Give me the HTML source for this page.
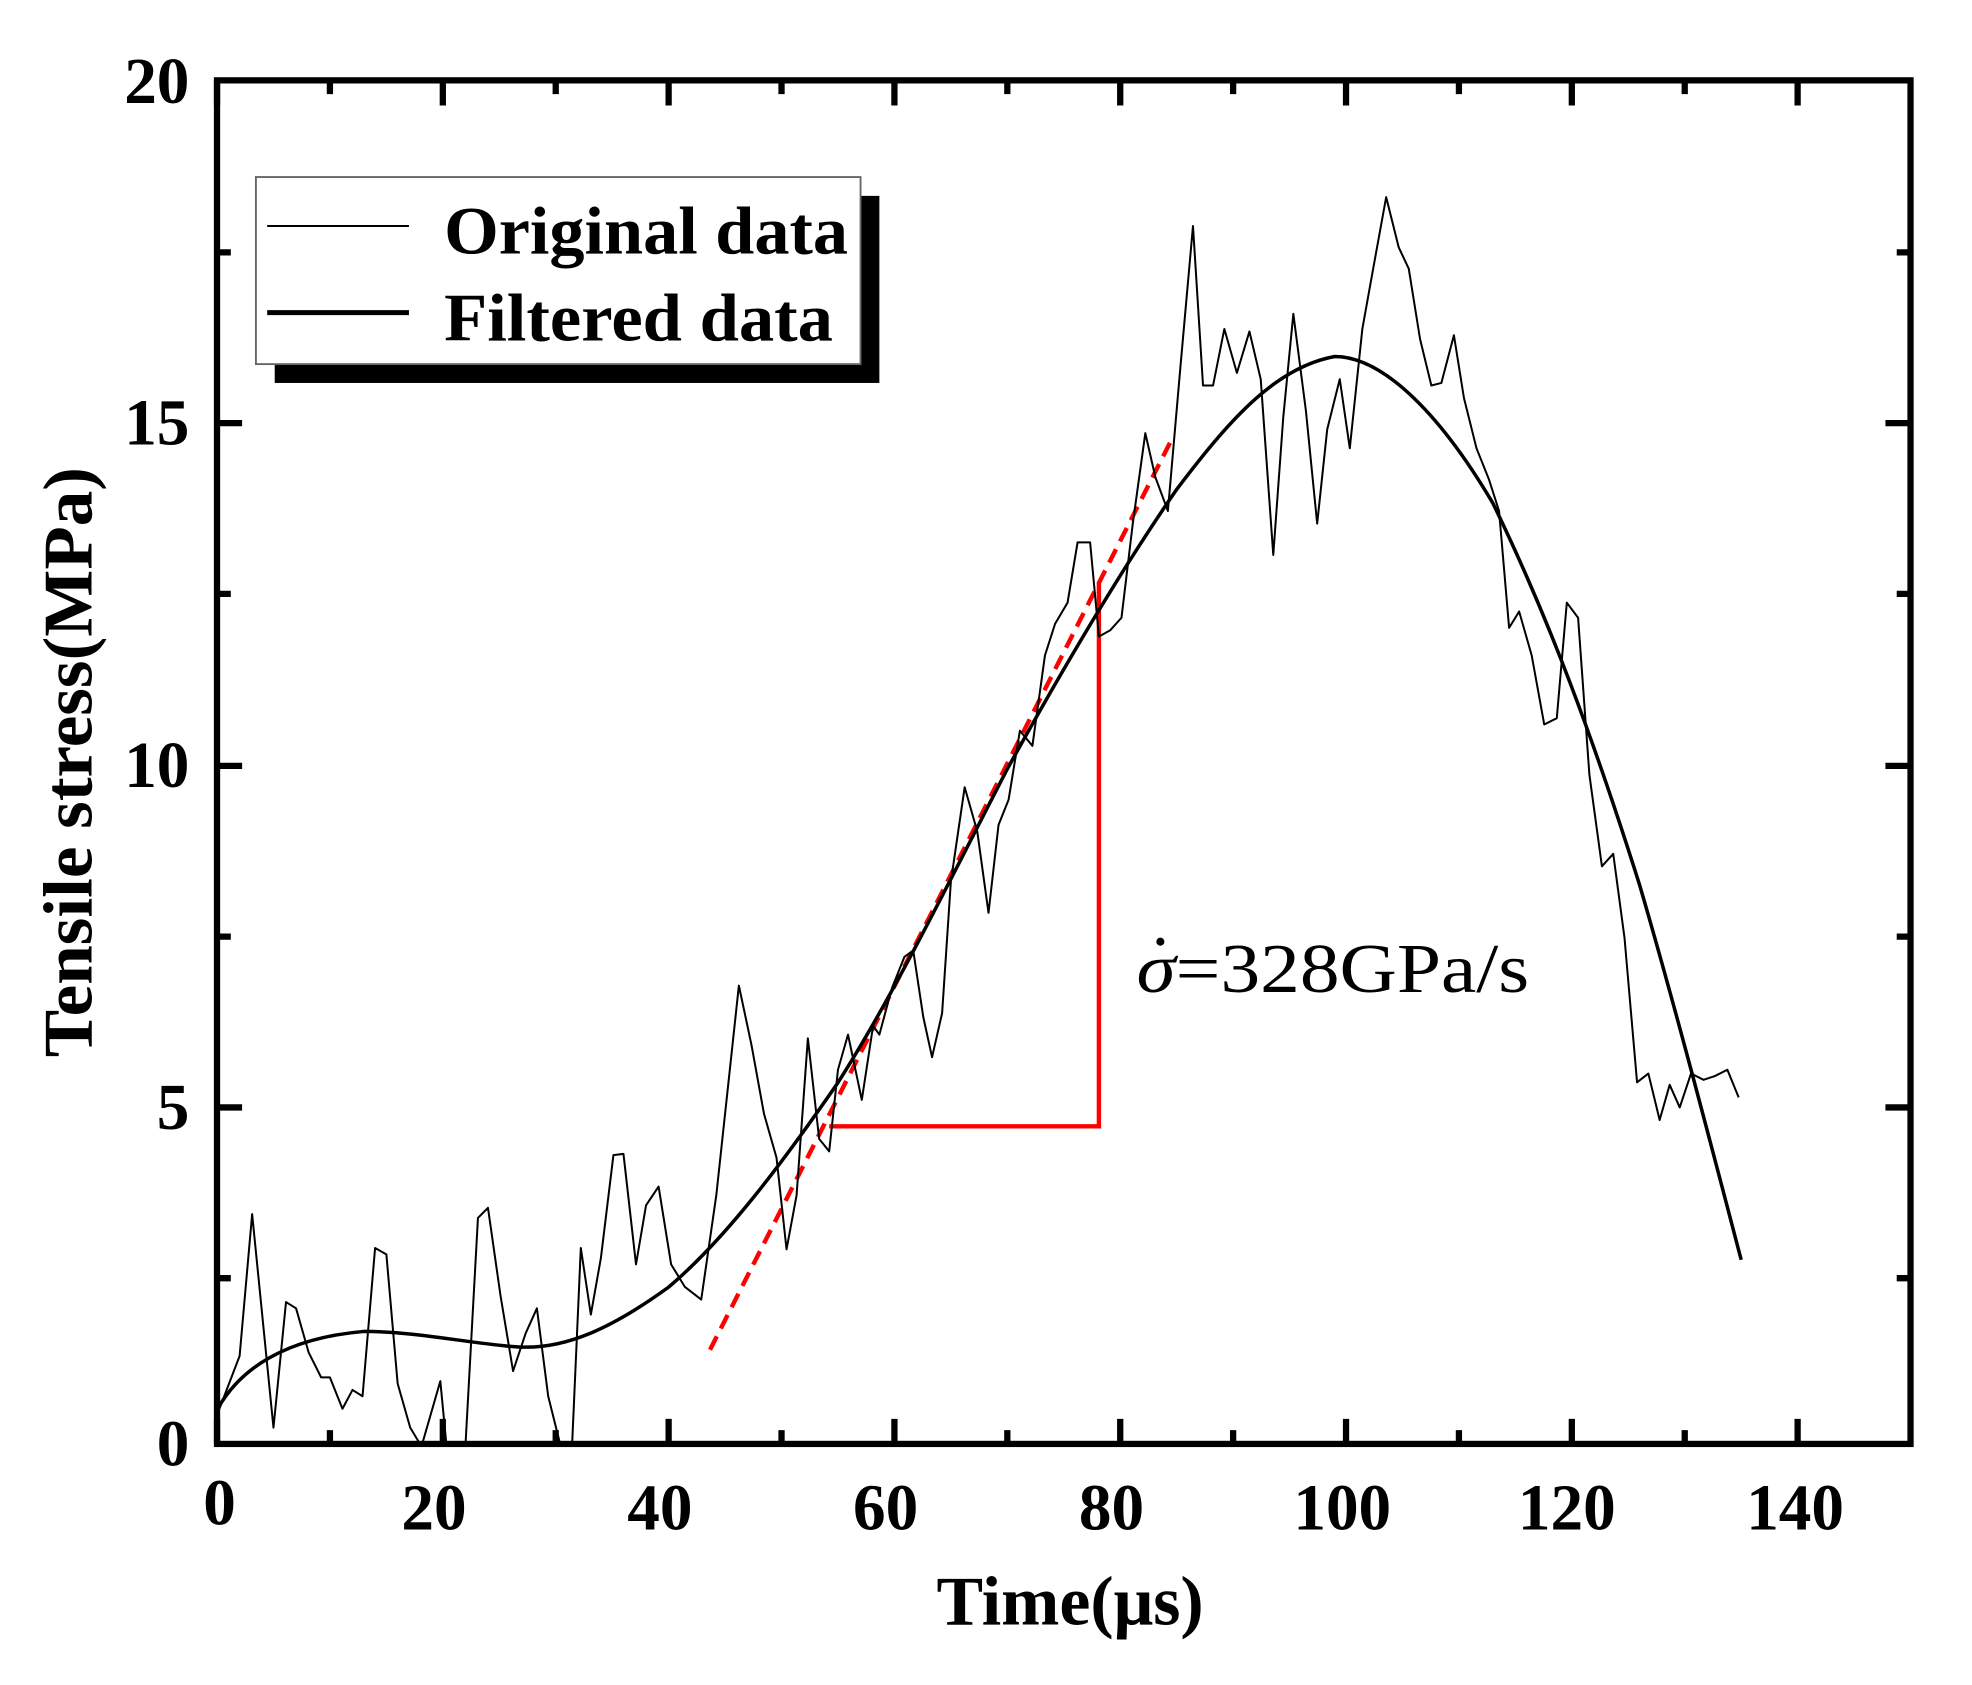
<!DOCTYPE html>
<html><head><meta charset="utf-8"><style>html,body{margin:0;padding:0;background:#fff}svg{display:block}</style></head>
<body>
<svg width="1972" height="1685" viewBox="-1 -2 1572 1342" preserveAspectRatio="none" xmlns="http://www.w3.org/2000/svg" font-family="'Liberation Serif', serif">
<defs><clipPath id="c"><rect x="172" y="62" width="1350" height="1086"/></clipPath></defs>
<rect x="-1" y="-2" width="1572" height="1342" fill="#fff"/>
<g stroke="#000" stroke-width="5">
<path d="M172,1148v-20M352,1148v-20M532,1148v-20M712,1148v-20M892,1148v-20M1072,1148v-20M1252,1148v-20M1432,1148v-20"/>
<path d="M262,1148v-11M442,1148v-11M622,1148v-11M802,1148v-11M982,1148v-11M1162,1148v-11M1342,1148v-11"/>
<path d="M172,62v20M352,62v20M532,62v20M712,62v20M892,62v20M1072,62v20M1252,62v20M1432,62v20"/>
<path d="M262,62v11M442,62v11M622,62v11M802,62v11M982,62v11M1162,62v11M1342,62v11"/>
<path d="M172,880h20M172,608h20M172,335h20M1522,880h-20M1522,608h-20M1522,335h-20"/>
<path d="M172,1016h11M172,744h11M172,471h11M172,199h11M1522,1016h-11M1522,744h-11M1522,471h-11M1522,199h-11"/>
</g>
<path d="M565,1073L932,350" stroke="#f00" stroke-width="3.5" stroke-dasharray="12,7" fill="none"/>
<path d="M660,895H875V462" stroke="#f00" stroke-width="3.5" fill="none"/>
<g clip-path="url(#c)">
<polyline fill="none" stroke="#000" stroke-width="1.6" stroke-linejoin="round" points="172,1125 190,1078 200,965 217,1135 227,1035 235,1040 245,1075 255,1095 262,1095 272,1120 280,1105 288,1110 298,992 307,997 316,1100 326,1135 335,1150 350,1098 355,1150 370,1150 380,968 388,960 398,1030 408,1090 418,1060 427,1040 436,1110 446,1150 455,1150 462,992 470,1045 478,1000 488,918 496,917 506,1005 514,958 524,943 534,1005 545,1023 558,1033 570,950 588,783 598,830 608,885 618,920 626,993 634,950 643,825 652,905 660,915 667,850 675,822 686,874 695,815 700,822 710,785 720,760 727,755 735,808 742,840 750,805 757,700 768,625 778,660 787,725 795,655 803,635 812,580 822,592 832,520 840,495 850,478 858,430 868,430 875,505 884,500 893,490 902,415 912,343 920,378 930,405 940,290 950,178 958,305 966,305 975,260 985,295 995,262 1004,300 1014,440 1022,330 1030,248 1040,325 1049,415 1057,340 1067,300 1075,355 1085,260 1094,210 1104,155 1114,195 1122,212 1131,268 1140,305 1148,303 1158,265 1166,315 1176,355 1186,380 1194,405 1202,498 1210,485 1220,520 1230,575 1240,570 1248,478 1257,490 1266,615 1276,688 1285,678 1294,745 1304,860 1313,853 1322,890 1330,862 1338,880 1347,853 1357,858 1366,855 1376,850 1385,872"/>
</g>
<g transform="translate(172,1148) scale(9,-54.3)">
<path fill="none" stroke="#000" stroke-width="3.5" vector-effect="non-scaling-stroke" d="M0,0.5 C2,1.1 6,1.55 13,1.65 C18,1.65 23,1.45 27,1.42 C31,1.4 35,1.7 40,2.3 C45,3 50,4.1 55,5.3 C60,6.6 65,8.3 70,9.9 C75,11.4 80,12.8 85,14.0 C90,15.1 94,15.8 99,15.95 C103,15.95 108,15.2 113,13.8 C118,12.1 122,10.3 126,8.2 C129,6.5 132,4.6 135,2.7"/>
</g>
<rect x="172" y="62" width="1350" height="1086" fill="none" stroke="#000" stroke-width="5"/>
<rect x="218" y="154" width="482" height="149" fill="#000"/>
<rect x="203" y="139" width="482" height="149" fill="#fff" stroke="#666" stroke-width="1.5"/>
<path d="M212,178H325" stroke="#000" stroke-width="1.6"/>
<path d="M212,247H325" stroke="#000" stroke-width="4"/>
<g font-weight="bold" font-size="54">
<text x="353" y="200" textLength="322" lengthAdjust="spacingAndGlyphs">Original data</text>
<text x="353" y="269" textLength="310" lengthAdjust="spacingAndGlyphs">Filtered data</text>
</g>
<text x="905" y="788" font-size="56" textLength="313" lengthAdjust="spacingAndGlyphs"><tspan font-style="italic">σ</tspan>=328GPa/s</text>
<circle cx="924" cy="748" r="3.2" fill="#000"/>
<g font-weight="bold" font-size="52" text-anchor="middle">
<text x="174" y="1212">0</text><text x="345" y="1216">20</text><text x="525" y="1216">40</text><text x="705" y="1216">60</text><text x="885" y="1216">80</text><text x="1069" y="1216">100</text><text x="1248" y="1216">120</text><text x="1430" y="1216">140</text>
</g>
<g font-weight="bold" font-size="52" text-anchor="end">
<text x="150" y="1165">0</text><text x="150" y="897">5</text><text x="150" y="625">10</text><text x="150" y="352">15</text><text x="150" y="80">20</text>
</g>
<text x="852" y="1292" font-weight="bold" font-size="56" text-anchor="middle" textLength="213" lengthAdjust="spacingAndGlyphs">Time(μs)</text>
<text transform="translate(72,605) rotate(-90)" font-weight="bold" font-size="56" text-anchor="middle" textLength="470" lengthAdjust="spacingAndGlyphs">Tensile stress(MPa)</text>
</svg>
</body></html>
